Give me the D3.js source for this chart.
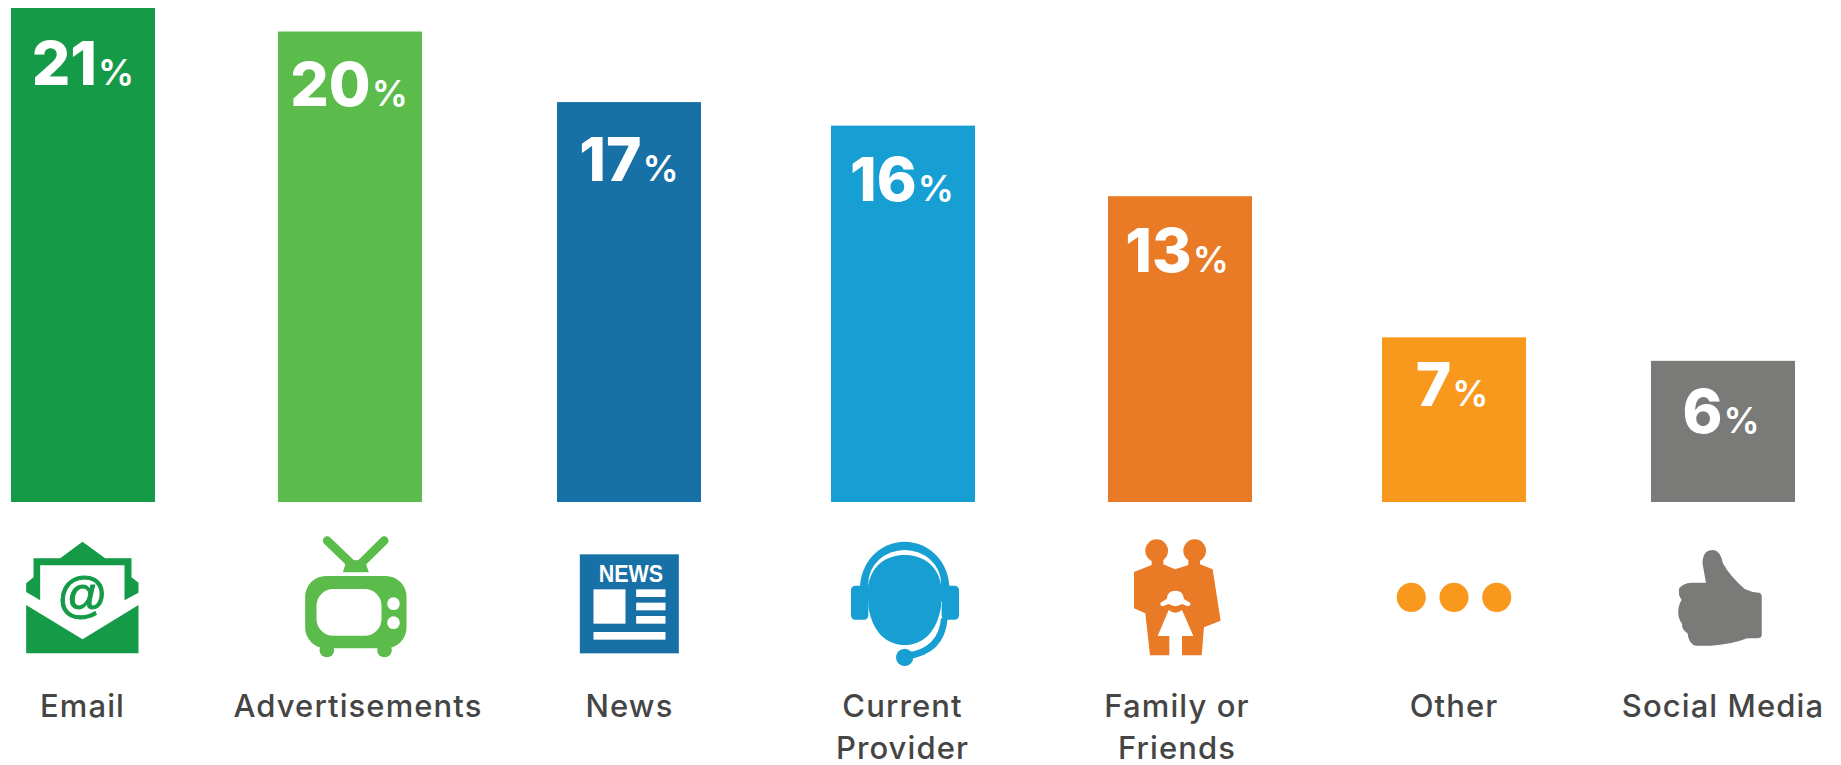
<!DOCTYPE html>
<html><head><meta charset="utf-8">
<script src="https://cdnjs.cloudflare.com/ajax/libs/d3/7.8.5/d3.min.js"></script>
<style>html,body{margin:0;background:#fff}svg{display:block}</style></head>
<body><svg id="c" width="1841" height="765"></svg>
<script>
const categories = ["Email","Advertisements","News","Current Provider","Family or Friends","Other","Social Media"];
const labelLines = [["Email"],["Advertisements"],["News"],["Current","Provider"],["Family or","Friends"],["Other"],["Social Media"]];
const values = [21,20,17,16,13,7,6];
const colors = ["#159b48","#5bbb4b","#1770a6","#179fd3","#e97a26","#f8991d","#7a7a78"];
const barCentres = [83,350,629,903,1180,1454,1723];
const valueDrop = [77,74,79,75,76,69,72];
const valueCentres = [83,349,629,902,1177,1452,1721];
const labelCentres = [82.5,358,629.5,902.5,1177,1454,1723];
const iconCentres = [82.5,355.5,629.5,905,1176,1454,1719.5];

const svg = d3.select("#c");
const x = d3.scaleOrdinal(categories, barCentres);
const xValue = d3.scaleOrdinal(categories, valueCentres);
const xLabel = d3.scaleOrdinal(categories, labelCentres);
const xIcon = d3.scaleOrdinal(categories, iconCentres);
const drop = d3.scaleOrdinal(categories, valueDrop);
const y = d3.scaleLinear([0,21],[502,8]);
const color = d3.scaleOrdinal(categories, colors);
const data = categories.map((c,i)=>({c,v:values[i],lines:labelLines[i]}));
const FONT = "Inter, 'Open Sans', sans-serif";

svg.selectAll("rect.bar").data(data).join("rect").attr("class","bar")
  .attr("x",d=>x(d.c)-72).attr("width",144)
  .attr("y",d=>y(d.v)).attr("height",d=>y(0)-y(d.v))
  .attr("fill",d=>color(d.c));

const vt = svg.selectAll("text.val").data(data).join("text").attr("class","val")
  .attr("x",d=>xValue(d.c)).attr("y",d=>y(d.v)+drop(d.c))
  .attr("text-anchor","middle").attr("fill","#fff").attr("font-family",FONT);
vt.append("tspan").attr("font-size",60.5).attr("font-weight",800).attr("letter-spacing",0).text(d=>d.v);
vt.append("tspan").attr("font-size",36).attr("font-weight",600).attr("dx",1).text("%");

const lab = svg.selectAll("text.lab").data(data).join("text").attr("class","lab")
  .attr("text-anchor","middle").attr("fill","#454545").attr("font-family",FONT)
  .attr("font-size",31).attr("font-weight",500).attr("letter-spacing",1.1);
lab.selectAll("tspan").data(d=>d.lines.map(l=>({l,c:d.c}))).join("tspan")
  .attr("x",d=>xLabel(d.c)).attr("y",(d,i)=>717+i*42).text(d=>d.l);

// Icon outlines are traced glyphs in their own local units; each is placed at its category's position
function icon(cat, zcx, sx, top, draw){
  const g = svg.append("g").attr("transform",`translate(${xIcon(cat)},${top}) scale(${1/sx},${1/3}) translate(${-zcx},0)`);
  draw(g, color(cat));
}

icon("Email",247,3,520,(g,f)=>{
  g.append("path").attr("fill",f).attr("d","M78,190 L100,172 V115 H180 L247,65 L315,115 H394 V172 L415,188 V218 L373,241 V136 H120 V241 L78,216 Z");
  g.append("path").attr("fill",f).attr("d","M78,255 L247,358 L415,255 V400 H78 Z");
  g.append("text").attr("x",247).attr("y",275).attr("text-anchor","middle").attr("fill",f).attr("stroke",f).attr("stroke-width",3)
    .attr("font-family","'Liberation Sans',sans-serif").attr("font-size",150).text("@");
});
icon("Advertisements",1067,3,520,(g,f)=>{
  g.append("path").attr("fill","none").attr("stroke",f).attr("stroke-width",26).attr("stroke-linecap","round")
    .attr("d","M982,62 L1055,132 M1153,62 L1082,132");
  g.append("path").attr("fill",f).attr("d","M1029,157 L1038,128 Q1067,112 1097,128 L1107,157 Z");
  g.append("rect").attr("x",916).attr("y",168).attr("width",304).attr("height",217).attr("rx",62).attr("fill",f);
  g.append("rect").attr("x",950).attr("y",207).attr("width",195).attr("height",140).attr("rx",50).attr("fill","#fff");
  [251,308].forEach(cy=>g.append("circle").attr("cx",1181).attr("cy",cy).attr("r",19).attr("fill","#fff"));
  [981,1154].forEach(cx=>g.append("circle").attr("cx",cx).attr("cy",390).attr("r",22).attr("fill",f));
});
icon("News",267,3,520,(g,f)=>{
  g.append("rect").attr("x",118).attr("y",103).attr("width",297).attr("height",297).attr("fill",f);
  g.append("text").attr("x",175).attr("y",187).attr("fill","#fff").attr("font-family","'Liberation Sans',sans-serif")
    .attr("font-weight",700).attr("font-size",72).attr("textLength",193).attr("lengthAdjust","spacingAndGlyphs").text("NEWS");
  [[159,208,96,103],[287,208,88,23],[287,248,88,23],[287,288,88,23],[159,336,216,23]].forEach(r=>
    g.append("rect").attr("x",r[0]).attr("y",r[1]).attr("width",r[2]).attr("height",r[3]).attr("fill","#fff"));
});
icon("Current Provider",1095,3,520,(g,f)=>{
  g.append("path").attr("fill",f).attr("d","M960,205 A134,140 0 0 1 1228,205 V240 H960 Z");
  g.append("ellipse").attr("cx",1094).attr("cy",190).attr("rx",109).attr("ry",100).attr("fill","#fff");
  g.append("rect").attr("x",960).attr("y",205).attr("width",26).attr("height",40).attr("fill",f);
  g.append("rect").attr("x",1203).attr("y",205).attr("width",25).attr("height",40).attr("fill",f);
  g.append("path").attr("fill",f).attr("d","M985,195 C995,135 1040,105 1094,105 C1148,105 1193,135 1203,195 V260 C1190,340 1145,375 1094,375 C1043,375 998,340 985,260 Z");
  [933,1205].forEach(rx=>g.append("rect").attr("x",rx).attr("y",197).attr("width",52).attr("height",102).attr("rx",13).attr("fill",f));
  g.append("path").attr("fill","none").attr("stroke",f).attr("stroke-width",20).attr("d","M1213,295 Q1205,395 1100,408");
  g.append("circle").attr("cx",1094).attr("cy",412).attr("r",26).attr("fill",f);
});
icon("Family or Friends",168,3,530,(g,f)=>{
  [110,224].forEach(cx=>g.append("circle").attr("cx",cx).attr("cy",62).attr("r",34).attr("fill",f));
  g.append("path").attr("fill",f).attr("d","M95,88 V105 L42,126 V235 L76,250 L90,376 H245 L252,292 L302,272 L278,118 L240,103 V88 H205 V105 L165,118 L130,103 V88 Z");
  g.append("path").attr("fill","#fff").attr("d","M166,182 Q142,182 140,207 L122,218 Q118,226 128,229 L146,222 Q166,235 186,222 L204,229 Q214,226 210,218 L192,207 Q190,182 166,182 Z");
  g.append("path").attr("fill","#fff").attr("d","M146,240 Q166,256 186,240 L220,318 H186 V378 H148 V318 H113 Z");
});
icon("Other",770,2.06,520,(g,f)=>{
  [682,770,858].forEach(cx=>g.append("ellipse").attr("cx",cx).attr("cy",232).attr("rx",30).attr("ry",44).attr("fill",f));
});
icon("Social Media",1318,2.06,520,(g,f)=>{
  g.append("path").attr("fill",f).attr("d","M1290,188 L1283,130 Q1283,90 1305,90 Q1320,92 1325,130 Q1340,170 1370,207 Q1385,218 1400,218 Q1405,220 1405,228 V345 Q1405,355 1395,355 H1375 Q1340,375 1300,377 H1270 Q1255,375 1252,340 Q1240,330 1241,312 Q1232,295 1233,270 Q1235,250 1240,240 Q1232,225 1235,205 Q1242,190 1260,188 Z");
});
</script></body></html>
